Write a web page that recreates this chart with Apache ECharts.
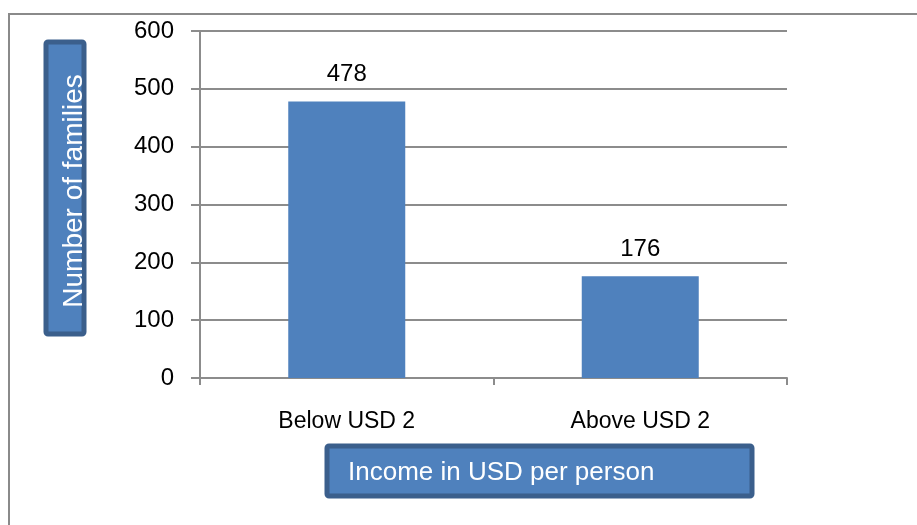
<!DOCTYPE html>
<html>
<head>
<meta charset="utf-8">
<script src="https://cdn.jsdelivr.net/npm/echarts@6/dist/echarts.min.js"></script>
<style>
  html, body { margin: 0; padding: 0; background: #ffffff; }
  #chart { width: 917px; height: 525px; }
</style>
</head>
<body>
<div id="chart"></div>
<script>
// Families grouped by daily income per person
const categories = ['Below USD 2', 'Above USD 2'];
const families = [478, 176];
const yTicks = [0, 100, 200, 300, 400, 500, 600];

const xTitle = 'Income in USD per person';
const yTitle = 'Number of families';

const FONT = '"Liberation Sans", Arial, sans-serif';
const BLUE = '#4f81bd';
const BOX_EDGE = '#3b5f8c';
const GRID = '#8c8c8c';

const chart = echarts.init(document.getElementById('chart'), null, { renderer: 'canvas' });

chart.setOption({
  animation: false,
  backgroundColor: '#ffffff',
  grid: { left: 200, top: 31, right: 130, bottom: 147, containLabel: false },
  xAxis: {
    type: 'category',
    data: categories,
    boundaryGap: true,
    axisLine: { lineStyle: { color: GRID, width: 2 } },
    axisTick: { show: true, length: 7, lineStyle: { color: GRID, width: 2 } },
    axisLabel: { color: '#000', fontFamily: FONT, fontSize: 23, margin: 32 },
    splitLine: { show: false }
  },
  yAxis: {
    type: 'value',
    min: yTicks[0],
    max: yTicks[yTicks.length - 1],
    interval: yTicks[1] - yTicks[0],
    axisLine: { show: true, lineStyle: { color: GRID, width: 2 } },
    axisTick: { show: true, length: 9, lineStyle: { color: GRID, width: 2 } },
    axisLabel: { color: '#000', fontFamily: FONT, fontSize: 24, margin: 26 },
    splitLine: { show: true, lineStyle: { color: GRID, width: 2 } }
  },
  series: [{
    type: 'bar',
    data: families,
    barWidth: 117,
    itemStyle: { color: BLUE },
    label: {
      show: true,
      position: 'top',
      distance: 15,
      color: '#000',
      fontFamily: FONT,
      fontSize: 24
    }
  }],
  graphic: [
    // outer chart frame
    {
      type: 'rect',
      shape: { x: 9, y: 14, width: 1000, height: 600 },
      style: { fill: 'none', stroke: '#8a8a8a', lineWidth: 2 },
      silent: true,
      z: -1
    },
    // vertical axis title box
    {
      type: 'rect',
      shape: { x: 46, y: 42, width: 38, height: 292, r: 2 },
      style: { fill: BLUE, stroke: BOX_EDGE, lineWidth: 5 },
      z: 10
    },
    {
      type: 'text',
      x: 74,
      y: 191,
      rotation: Math.PI / 2,
      style: {
        text: yTitle,
        fill: '#ffffff',
        font: '28px ' + FONT,
        textAlign: 'center',
        textVerticalAlign: 'middle'
      },
      z: 11
    },
    // horizontal axis title box
    {
      type: 'rect',
      shape: { x: 327, y: 446, width: 425, height: 50, r: 2 },
      style: { fill: BLUE, stroke: BOX_EDGE, lineWidth: 5 },
      z: 10
    },
    {
      type: 'text',
      x: 348,
      y: 473,
      style: {
        text: xTitle,
        fill: '#ffffff',
        font: '26px ' + FONT,
        textAlign: 'left',
        textVerticalAlign: 'middle'
      },
      z: 11
    }
  ]
});
</script>
</body>
</html>
